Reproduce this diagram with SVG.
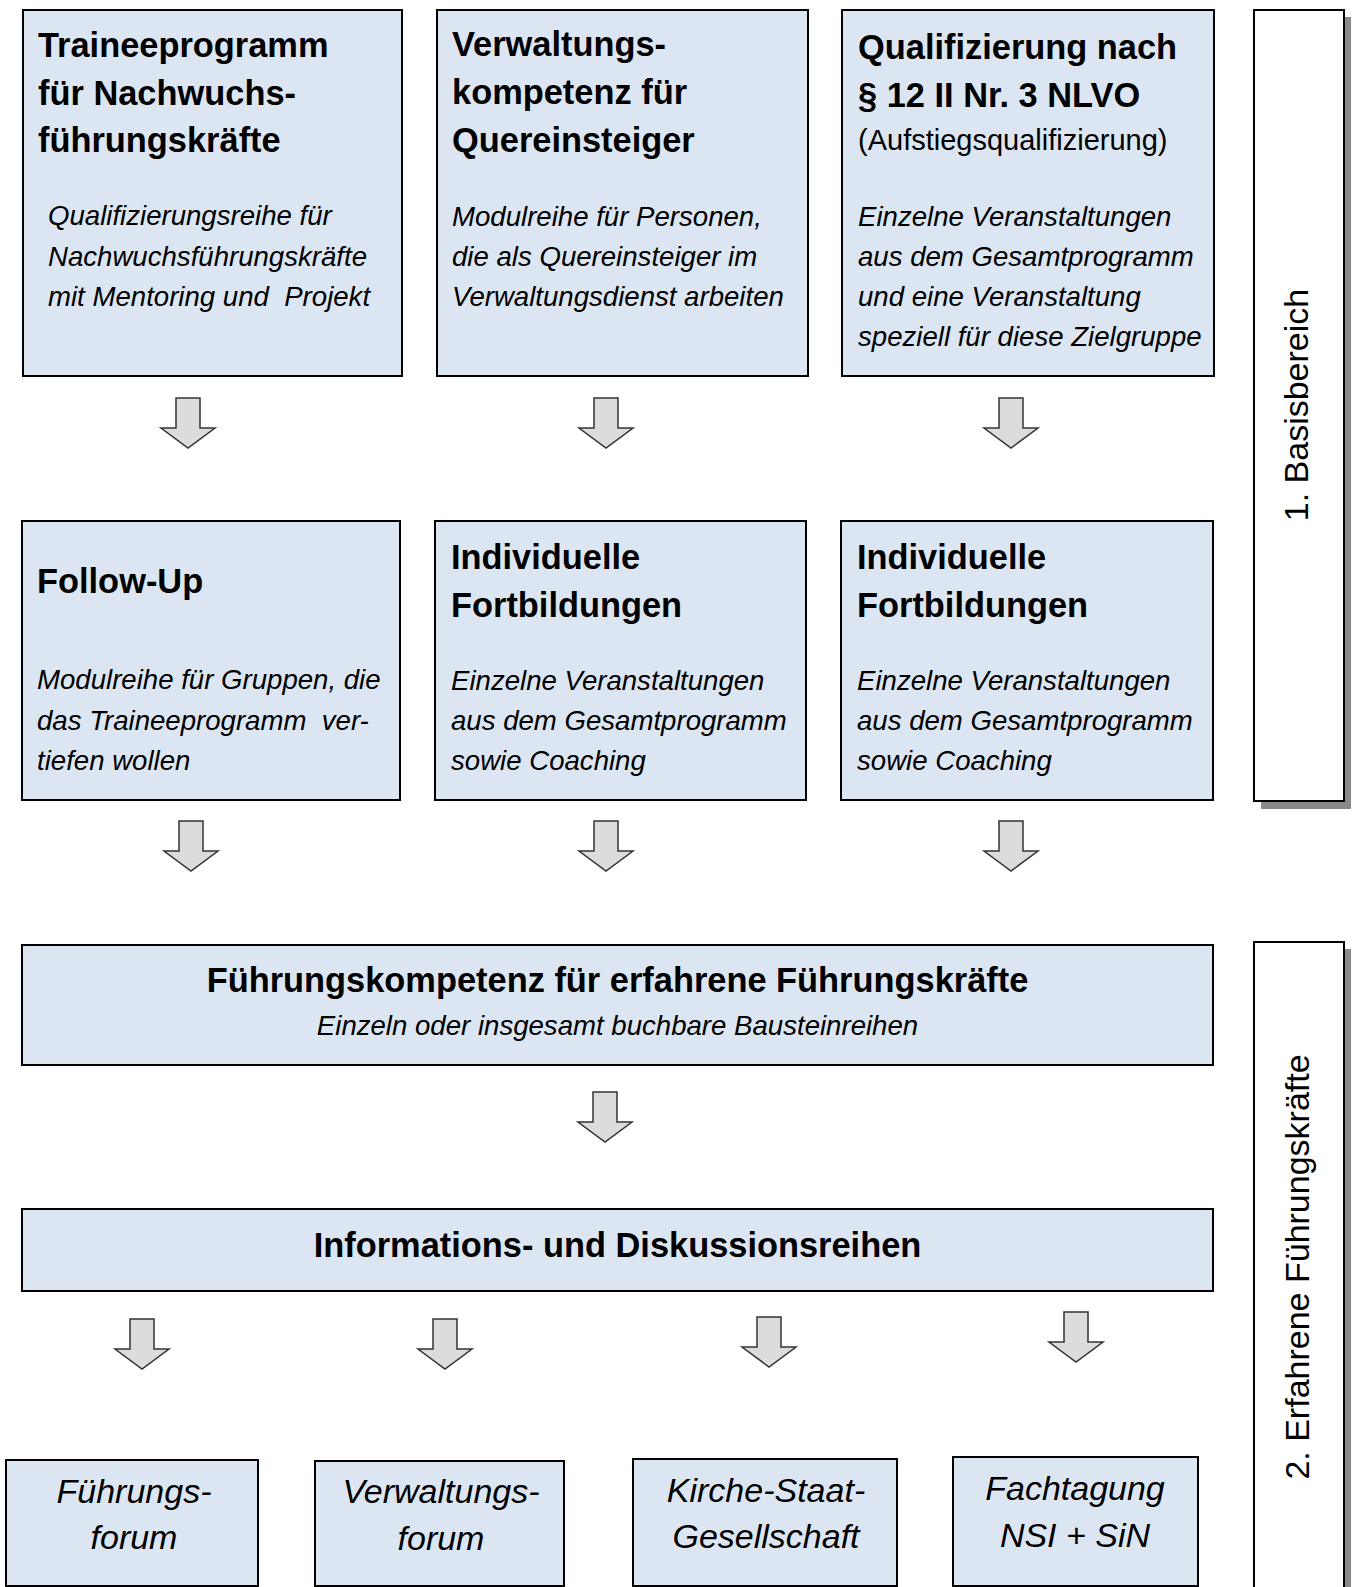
<svg xmlns="http://www.w3.org/2000/svg" width="1357" height="1587" viewBox="0 0 1357 1587">
<style>
.box{fill:#dce6f2;stroke:#000;stroke-width:2}
.lbl{fill:#fff;stroke:#000;stroke-width:2}
.shd{fill:#8a8a8a}
.arr{fill:#dcdcdc;stroke:#333;stroke-width:1.5;stroke-linejoin:miter}
text{font-family:"Liberation Sans",Arial,sans-serif;fill:#000}
.t{font-size:34.4px;font-weight:bold}
.i{font-size:27.6px;font-style:italic}
.p{font-size:29px}
.b{font-size:34px;font-style:italic;text-anchor:middle}
.c{text-anchor:middle}
.v{font-size:34px;text-anchor:middle}
</style>
<defs>
<path id="a" class="arr" d="M-12,0 H12 V30 H27 L0,50 L-27,30 H-12 Z"/>
</defs>
<rect width="1357" height="1587" fill="#fff"/>

<g id="n1">
<rect class="box" x="23" y="10" width="379" height="366"/>
<text class="t" x="38" y="57">Traineeprogramm</text>
<text class="t" x="38" y="105">für Nachwuchs-</text>
<text class="t" x="38" y="152">führungskräfte</text>
<text class="i" x="48" y="225">Qualifizierungsreihe für</text>
<text class="i" x="48" y="266">Nachwuchsführungskräfte</text>
<text class="i" x="48" y="306" xml:space="preserve">mit Mentoring und  Projekt</text>
</g>

<g id="n2">
<rect class="box" x="437" y="10" width="371" height="366"/>
<text class="t" x="452" y="56">Verwaltungs-</text>
<text class="t" x="452" y="104">kompetenz für</text>
<text class="t" x="452" y="152">Quereinsteiger</text>
<text class="i" x="452" y="226">Modulreihe für Personen,</text>
<text class="i" x="452" y="266">die als Quereinsteiger im</text>
<text class="i" x="452" y="306">Verwaltungsdienst arbeiten</text>
</g>

<g id="n3">
<rect class="box" x="842" y="10" width="372" height="366"/>
<text class="t" x="858" y="59">Qualifizierung nach</text>
<text class="t" x="858" y="107">§ 12 II Nr. 3 NLVO</text>
<text class="p" x="858" y="150">(Aufstiegsqualifizierung)</text>
<text class="i" x="858" y="226">Einzelne Veranstaltungen</text>
<text class="i" x="858" y="266">aus dem Gesamtprogramm</text>
<text class="i" x="858" y="306">und eine Veranstaltung</text>
<text class="i" x="858" y="346">speziell für diese Zielgruppe</text>
</g>

<g id="n4">
<rect class="box" x="22" y="521" width="378" height="279"/>
<text class="t" x="37" y="593">Follow-Up</text>
<text class="i" x="37" y="689">Modulreihe für Gruppen, die</text>
<text class="i" x="37" y="730" xml:space="preserve">das Traineeprogramm  ver-</text>
<text class="i" x="37" y="770">tiefen wollen</text>
</g>

<g id="n5">
<rect class="box" x="435" y="521" width="371" height="279"/>
<text class="t" x="451" y="569">Individuelle</text>
<text class="t" x="451" y="617">Fortbildungen</text>
<text class="i" x="451" y="690">Einzelne Veranstaltungen</text>
<text class="i" x="451" y="730">aus dem Gesamtprogramm</text>
<text class="i" x="451" y="770">sowie Coaching</text>
</g>

<g id="n6">
<rect class="box" x="841" y="521" width="372" height="279"/>
<text class="t" x="857" y="569">Individuelle</text>
<text class="t" x="857" y="617">Fortbildungen</text>
<text class="i" x="857" y="690">Einzelne Veranstaltungen</text>
<text class="i" x="857" y="730">aus dem Gesamtprogramm</text>
<text class="i" x="857" y="770">sowie Coaching</text>
</g>

<g id="n7">
<rect class="box" x="22" y="945" width="1191" height="120"/>
<text class="t c" x="617.5" y="992">Führungskompetenz für erfahrene Führungskräfte</text>
<text class="i c" x="617.5" y="1035">Einzeln oder insgesamt buchbare Bausteinreihen</text>
</g>

<g id="n8">
<rect class="box" x="22" y="1209" width="1191" height="82"/>
<text class="t c" x="617.5" y="1257">Informations- und Diskussionsreihen</text>
</g>

<g id="n9">
<rect class="box" x="6" y="1460" width="252" height="126"/>
<text class="b" x="134" y="1503">Führungs-</text>
<text class="b" x="134" y="1549">forum</text>
</g>

<g id="n10">
<rect class="box" x="315" y="1461" width="249" height="125"/>
<text class="b" x="441" y="1503">Verwaltungs-</text>
<text class="b" x="441" y="1550">forum</text>
</g>

<g id="n11">
<rect class="box" x="633" y="1459" width="264" height="127"/>
<text class="b" x="766" y="1502">Kirche-Staat-</text>
<text class="b" x="766" y="1548">Gesellschaft</text>
</g>

<g id="n12">
<rect class="box" x="953" y="1457" width="245" height="129"/>
<text class="b" x="1075" y="1500">Fachtagung</text>
<text class="b" x="1075" y="1547">NSI + SiN</text>
</g>

<g id="l1">
<rect class="shd" x="1261" y="17" width="90" height="792"/>
<rect class="lbl" x="1254" y="10" width="90" height="791"/>
<text class="v" transform="translate(1308,405) rotate(-90)">1. Basisbereich</text>
</g>

<g id="l2">
<rect class="shd" x="1261" y="949" width="90" height="660"/>
<rect class="lbl" x="1254" y="942" width="90" height="660"/>
<text class="v" transform="translate(1309,1267) rotate(-90)">2. Erfahrene Führungskräfte</text>
</g>

<g id="connectors">
<use href="#a" x="188" y="398"/>
<use href="#a" x="606" y="398"/>
<use href="#a" x="1011" y="398"/>
<use href="#a" x="191" y="821"/>
<use href="#a" x="606" y="821"/>
<use href="#a" x="1011" y="821"/>
<use href="#a" x="605" y="1092"/>
<use href="#a" x="142" y="1319"/>
<use href="#a" x="445" y="1319"/>
<use href="#a" x="769" y="1317"/>
<use href="#a" x="1076" y="1312"/>
</g>
</svg>
